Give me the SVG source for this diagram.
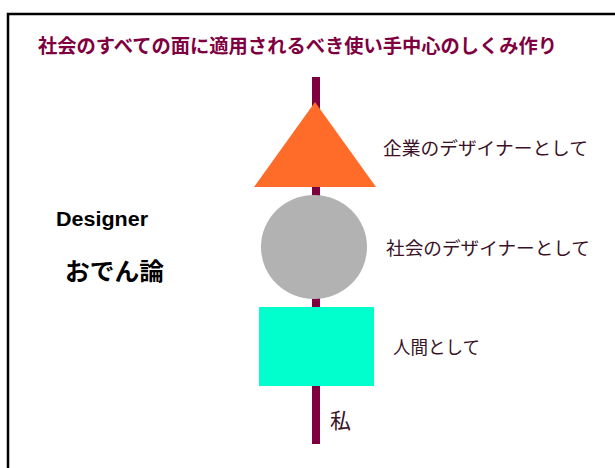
<svg xmlns="http://www.w3.org/2000/svg" width="615" height="468" viewBox="0 0 615 468">
<style>
.jp{font-family:"Noto Sans CJK JP","Liberation Sans",sans-serif;}
.lbl{font-size:18px;fill:#3a1226;}
.title{font-size:19px;font-weight:bold;fill:#80003f;}
.blk{fill:#000;font-weight:bold;}
</style>
<rect width="615" height="468" fill="#fff"/>
<path d="M8 470 V14 H620" fill="none" stroke="#000" stroke-width="2.5"/>
<text class="jp title" x="38" y="53" textLength="519" lengthAdjust="spacingAndGlyphs">社会のすべての面に適用されるべき使い手中心のしくみ作り</text>
<g id="connectors">
<rect x="312" y="77" width="8" height="367" fill="#80003f"/>
</g>
<g id="node-corp">
<polygon points="315,102 376,187 254,187" fill="#ff6c2a"/>
<text class="jp lbl" x="383" y="155" textLength="205" lengthAdjust="spacingAndGlyphs">企業のデザイナーとして</text>
</g>
<g id="node-society">
<ellipse cx="314" cy="247" rx="53" ry="52" fill="#b2b2b2"/>
<text class="jp lbl" x="386" y="255" textLength="204" lengthAdjust="spacingAndGlyphs">社会のデザイナーとして</text>
</g>
<g id="node-human">
<rect x="259" y="307" width="115" height="79" fill="#00ffcc"/>
<text class="jp lbl" x="393" y="354" textLength="87" lengthAdjust="spacingAndGlyphs">人間として</text>
</g>
<g id="node-me">
<text class="jp lbl" x="330" y="428" style="font-size:21px">私</text>
</g>
<g id="node-designer">
<text class="blk" x="56" y="226" font-family="Liberation Sans, sans-serif" font-size="20" textLength="92" lengthAdjust="spacingAndGlyphs">Designer</text>
<text class="jp blk" x="65" y="280" font-size="24" textLength="99" lengthAdjust="spacingAndGlyphs">おでん論</text>
</g>
</svg>
